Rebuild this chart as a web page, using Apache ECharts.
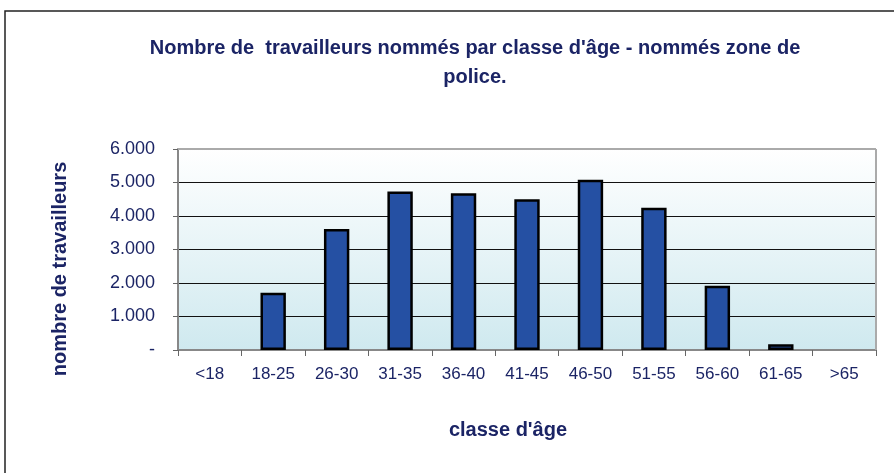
<!DOCTYPE html>
<html><head><meta charset="utf-8">
<script src="https://cdn.jsdelivr.net/npm/echarts@6/dist/echarts.min.js"></script>
<style>html,body{margin:0;padding:0;background:#fff}#c{width:894px;height:473px}</style>
</head><body><div id="c"></div>
<script>
const categories = ['<18','18-25','26-30','31-35','36-40','41-45','46-50','51-55','56-60','61-65','>65'];
const values = [0, 1710, 3610, 4730, 4680, 4500, 5080, 4250, 1920, 170, 0];
const yTicks = [0, 1000, 2000, 3000, 4000, 5000, 6000];
const titleText = "Nombre de  travailleurs nommés par classe d'âge - nommés zone de\npolice.";
const navy = '#1b2465';
const chart = echarts.init(document.getElementById('c'), null, {renderer:'canvas'});
chart.setOption({
  animation:false,
  title:{text:titleText,left:470,top:29,textAlign:'center',
    textStyle:{fontFamily:'Liberation Sans',fontSize:20,fontWeight:'bold',color:navy,lineHeight:29}},
  grid:{left:178,right:18,top:149,bottom:123,show:true,borderWidth:0,
    backgroundColor:{type:'linear',x:0,y:0,x2:0,y2:1,colorStops:[{offset:0,color:'#ffffff'},{offset:1,color:'#cfe9ef'}]}},
  xAxis:{type:'category',data:categories,
    axisLine:{lineStyle:{color:'#888',width:2}},
    axisTick:{show:true,length:6,lineStyle:{color:'#666',width:1}},
    axisLabel:{fontFamily:'Liberation Sans',fontSize:17,color:navy,margin:16},
    name:"classe d'âge",nameLocation:'middle',nameGap:70,
    nameTextStyle:{fontFamily:'Liberation Sans',fontSize:20,fontWeight:'bold',color:navy,padding:[0,38,0,0]}},
  yAxis:{type:'value',min:yTicks[0],max:yTicks[yTicks.length-1],interval:1000,
    axisLine:{show:true,lineStyle:{color:'#888',width:2}},
    axisTick:{show:true,length:5,lineStyle:{color:'#666'}},
    splitLine:{lineStyle:{color:'#111',width:1}},
    axisLabel:{fontFamily:'Liberation Sans',fontSize:18,color:navy,margin:23,
      formatter:v=> v===0 ? '-' : (v/1000).toFixed(0)+'.000'}},
  graphic:[
    {type:'rect',shape:{x:5,y:11,width:900,height:480},style:{fill:'none',stroke:'#222',lineWidth:1.5},z:-10},
    {type:'line',shape:{x1:178,y1:149,x2:876,y2:149},style:{stroke:'#aaa',lineWidth:2},z:5},
    {type:'line',shape:{x1:876,y1:149,x2:876,y2:350},style:{stroke:'#aaa',lineWidth:2},z:5},
    {type:'text',x:60,y:269,rotation:Math.PI/2,
      style:{text:'nombre de travailleurs',fontFamily:'Liberation Sans',fontSize:20,fontWeight:'bold',fill:navy,align:'center',verticalAlign:'middle'}}
  ],
  series:[{type:'bar',data:values.map(v=>v===0?null:v),barWidth:'40%',
    itemStyle:{color:'#2550a3',borderColor:'#000',borderWidth:2.5}}]
});
</script></body></html>
